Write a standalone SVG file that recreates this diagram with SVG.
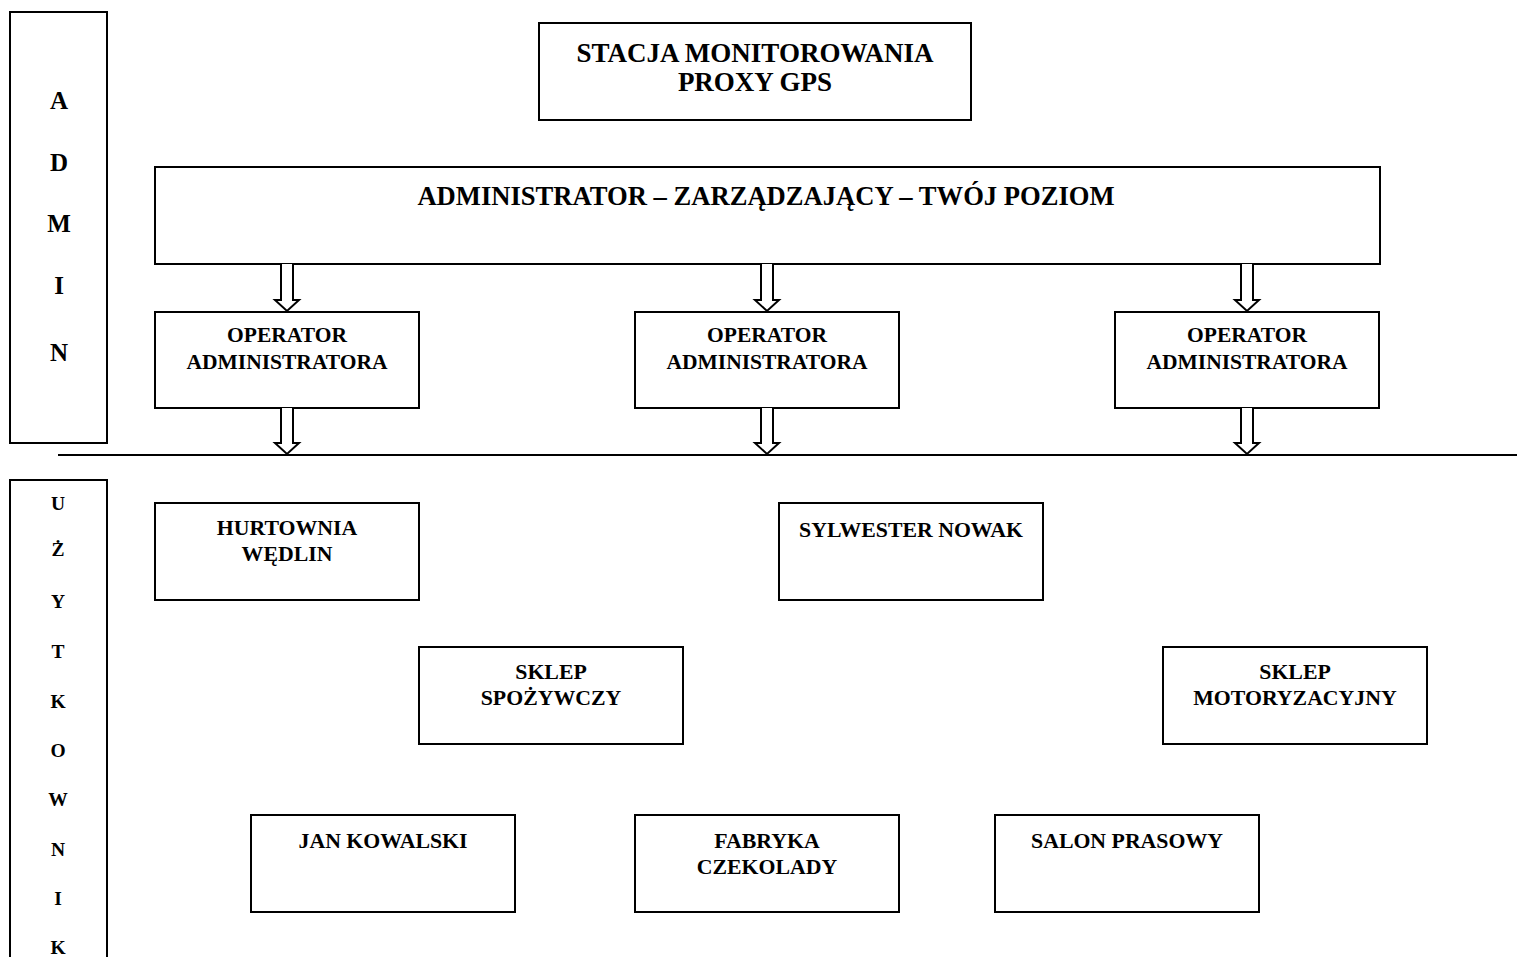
<svg xmlns="http://www.w3.org/2000/svg" width="1517" height="957" viewBox="0 0 1517 957">
<style>
rect.b{fill:#fff;stroke:#000;stroke-width:2}
text{font-weight:bold;fill:#000;text-anchor:middle}
.t0{font-size:27px}
.t1{font-size:26.6px}
.op{font-size:21.5px}
.sm{font-size:21.8px}
.sa{font-size:25px}
.su{font-size:19.5px}
.arr{fill:#fff;stroke:#000;stroke-width:2;stroke-linejoin:miter}
</style>
<rect width="1517" height="957" fill="#fff"/>
<g font-family="'Liberation Serif', 'Times New Roman', Tinos, 'DejaVu Serif', serif">
<g id="admin-band">
<rect class="b" x="10" y="12" width="97" height="431"/>
<text class="sa" x="59" y="109">A</text>
<text class="sa" x="59" y="171">D</text>
<text class="sa" x="59" y="232">M</text>
<text class="sa" x="59" y="294">I</text>
<text class="sa" x="59" y="361">N</text>
</g>
<g id="user-band">
<rect class="b" x="10" y="480" width="97" height="490"/>
<text class="su" x="58" y="510">U</text>
<text class="su" x="58" y="556">Ż</text>
<text class="su" x="58" y="608">Y</text>
<text class="su" x="58" y="658">T</text>
<text class="su" x="58" y="708">K</text>
<text class="su" x="58" y="757">O</text>
<text class="su" x="58" y="806">W</text>
<text class="su" x="58" y="856">N</text>
<text class="su" x="58" y="905">I</text>
<text class="su" x="58" y="954">K</text>
</g>
<g id="stacja">
<rect class="b" x="539" y="23" width="432" height="97"/>
<text class="t0" x="755" y="62">STACJA MONITOROWANIA</text>
<text class="t0" x="755" y="91">PROXY GPS</text>
</g>
<g id="administrator">
<rect class="b" x="155" y="167" width="1225" height="97"/>
<text class="t1" x="766" y="205">ADMINISTRATOR – ZARZĄDZAJĄCY – TWÓJ POZIOM</text>
</g>
<g id="operator1">
<rect class="b" x="155" y="312" width="264" height="96"/>
<text class="op" x="287" y="342">OPERATOR</text>
<text class="op" x="287" y="369">ADMINISTRATORA</text>
</g>
<g id="operator2">
<rect class="b" x="635" y="312" width="264" height="96"/>
<text class="op" x="767" y="342">OPERATOR</text>
<text class="op" x="767" y="369">ADMINISTRATORA</text>
</g>
<g id="operator3">
<rect class="b" x="1115" y="312" width="264" height="96"/>
<text class="op" x="1247" y="342">OPERATOR</text>
<text class="op" x="1247" y="369">ADMINISTRATORA</text>
</g>
<g id="hurtownia">
<rect class="b" x="155" y="503" width="264" height="97"/>
<text class="sm" x="287" y="535">HURTOWNIA</text>
<text class="sm" x="287" y="561">WĘDLIN</text>
</g>
<g id="sylwester">
<rect class="b" x="779" y="503" width="264" height="97"/>
<text class="sm" x="911" y="537">SYLWESTER NOWAK</text>
</g>
<g id="sklep-spozywczy">
<rect class="b" x="419" y="647" width="264" height="97"/>
<text class="sm" x="551" y="679">SKLEP</text>
<text class="sm" x="551" y="705">SPOŻYWCZY</text>
</g>
<g id="sklep-moto">
<rect class="b" x="1163" y="647" width="264" height="97"/>
<text class="sm" x="1295" y="679">SKLEP</text>
<text class="sm" x="1295" y="705">MOTORYZACYJNY</text>
</g>
<g id="jan">
<rect class="b" x="251" y="815" width="264" height="97"/>
<text class="sm" x="383" y="848">JAN KOWALSKI</text>
</g>
<g id="fabryka">
<rect class="b" x="635" y="815" width="264" height="97"/>
<text class="sm" x="767" y="848">FABRYKA</text>
<text class="sm" x="767" y="874">CZEKOLADY</text>
</g>
<g id="salon">
<rect class="b" x="995" y="815" width="264" height="97"/>
<text class="sm" x="1127" y="848">SALON PRASOWY</text>
</g>
</g>
<g id="connectors">
<line x1="58" y1="455" x2="1517" y2="455" stroke="#000" stroke-width="2"/>
<path class="arr" d="M281,264 V300 H275 L287,311 L299,300 H293 V264"/>
<path class="arr" d="M761,264 V300 H755 L767,311 L779,300 H773 V264"/>
<path class="arr" d="M1241,264 V300 H1235 L1247,311 L1259,300 H1253 V264"/>
<path class="arr" d="M281,408 V443 H275 L287,454 L299,443 H293 V408"/>
<path class="arr" d="M761,408 V443 H755 L767,454 L779,443 H773 V408"/>
<path class="arr" d="M1241,408 V443 H1235 L1247,454 L1259,443 H1253 V408"/>
</g>
</svg>
